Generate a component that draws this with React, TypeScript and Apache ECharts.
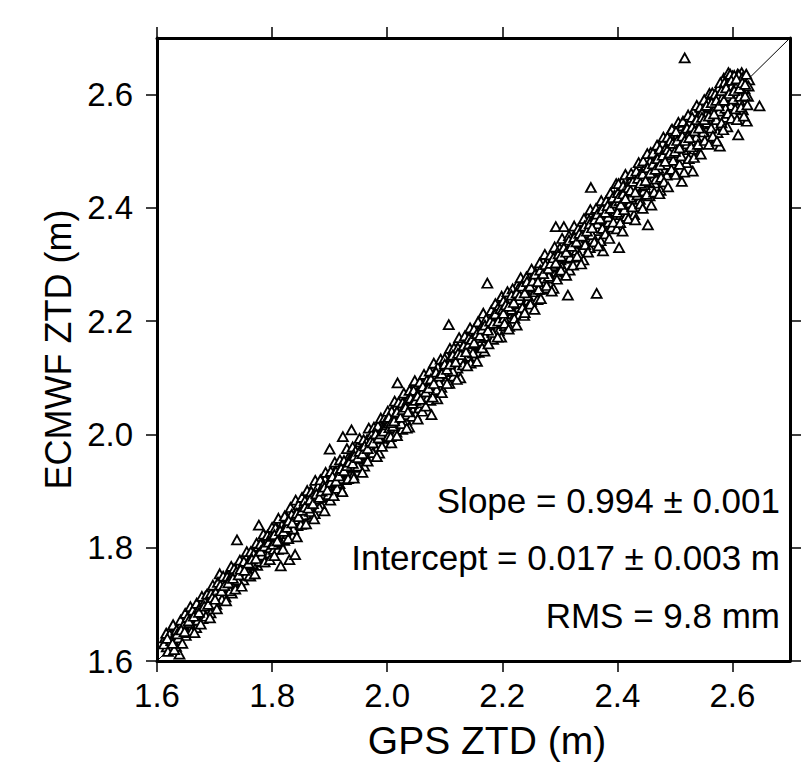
import React, { useEffect, useRef } from "react";
import * as echarts from "echarts";

const tickValues = [1.6, 1.8, 2.0, 2.2, 2.4, 2.6];
const axisMin = 1.6;
const axisMax = 2.7;
const oneToOneLine = [[1.6, 1.6], [2.7, 2.7]];
const statLines = ["Slope = 0.994 ± 0.001", "Intercept = 0.017 ± 0.003 m", "RMS = 9.8 mm"];
const xTitle = "GPS ZTD (m)";
const yTitle = "ECMWF ZTD (m)";

// [GPS ZTD, ECMWF ZTD] pairs, grouped by GPS range
const ztd16to18 = [
  [1.614,1.641],[1.617,1.625],[1.620,1.636],[1.624,1.621],[1.626,1.648],[1.629,1.634],[1.631,1.644],[1.633,1.626],
  [1.636,1.655],[1.639,1.612],[1.640,1.650],[1.643,1.667],[1.645,1.647],[1.647,1.661],[1.650,1.645],[1.652,1.672],
  [1.654,1.662],[1.657,1.685],[1.659,1.657],[1.661,1.676],[1.663,1.669],[1.666,1.687],[1.668,1.659],[1.670,1.681],
  [1.672,1.697],[1.675,1.678],[1.677,1.694],[1.679,1.675],[1.681,1.690],[1.684,1.714],[1.686,1.699],[1.688,1.689],
  [1.691,1.710],[1.693,1.685],[1.695,1.718],[1.698,1.705],[1.700,1.715],[1.703,1.700],[1.705,1.732],[1.707,1.717],
  [1.709,1.754],[1.711,1.729],[1.714,1.716],[1.716,1.740],[1.719,1.713],[1.721,1.733],[1.723,1.754],[1.726,1.732],
  [1.728,1.744],[1.730,1.720],[1.733,1.755],[1.735,1.739],[1.737,1.751],[1.739,1.814],[1.741,1.767],[1.743,1.741],
  [1.746,1.755],[1.748,1.768],[1.750,1.743],[1.753,1.766],[1.755,1.784],[1.757,1.762],[1.760,1.777],[1.762,1.750],
  [1.764,1.774],[1.767,1.790],[1.769,1.770],[1.771,1.786],[1.774,1.769],[1.776,1.803],[1.777,1.840],[1.779,1.787],
  [1.781,1.799],[1.784,1.775],[1.786,1.798],[1.788,1.820],[1.791,1.794],[1.793,1.814],[1.795,1.791],[1.798,1.809],
  [1.612,1.630],[1.616,1.649],[1.619,1.617],[1.622,1.647],[1.625,1.636],[1.628,1.664],[1.630,1.620],[1.634,1.655],
  [1.637,1.641],[1.641,1.672],[1.644,1.631],[1.646,1.663],[1.649,1.684],[1.651,1.650],[1.653,1.677],[1.656,1.668],
  [1.658,1.696],[1.660,1.652],[1.662,1.690],[1.665,1.650],[1.667,1.677],[1.669,1.702],[1.671,1.672],[1.674,1.694],
  [1.676,1.665],[1.678,1.714],[1.680,1.686],[1.683,1.705],[1.685,1.679],[1.687,1.718],[1.690,1.704],[1.692,1.676],
  [1.694,1.720],[1.697,1.734],[1.699,1.701],[1.702,1.721],[1.704,1.692],[1.706,1.739],[1.708,1.716],[1.710,1.734],
  [1.713,1.709],[1.715,1.750],[1.718,1.731],[1.720,1.706],[1.722,1.749],[1.725,1.743],[1.727,1.724],[1.729,1.767],
  [1.731,1.740],[1.734,1.763],[1.736,1.727],[1.738,1.758],[1.740,1.743],[1.744,1.778],[1.747,1.732],[1.749,1.763],
  [1.751,1.776],[1.754,1.751],[1.756,1.793],[1.758,1.769],[1.761,1.751],[1.763,1.793],[1.766,1.772],[1.768,1.789],
  [1.770,1.754],[1.773,1.808],[1.775,1.788],[1.778,1.776],[1.780,1.807],[1.782,1.787],[1.785,1.824],[1.787,1.775],
  [1.789,1.808],[1.792,1.822],[1.794,1.802],[1.796,1.779],[1.799,1.823],
  [1.618,1.640],[1.627,1.631],[1.635,1.648],[1.642,1.655],[1.648,1.652],[1.655,1.671],[1.664,1.679],[1.673,1.686],
  [1.682,1.697],[1.689,1.700],[1.696,1.712],[1.701,1.709],[1.712,1.724],[1.717,1.733],[1.724,1.738],[1.732,1.746],
  [1.742,1.752],[1.745,1.762],[1.752,1.760],[1.759,1.773],[1.765,1.780],[1.772,1.781],[1.780,1.794],[1.787,1.803],
  [1.794,1.810],[1.797,1.800]
];
const ztd18to20 = [
  [1.801,1.820],[1.803,1.797],[1.805,1.813],[1.808,1.835],[1.810,1.797],[1.812,1.826],[1.815,1.768],[1.816,1.819],
  [1.818,1.840],[1.821,1.813],[1.823,1.833],[1.825,1.855],[1.827,1.825],[1.830,1.779],[1.831,1.847],[1.833,1.839],
  [1.836,1.821],[1.838,1.862],[1.840,1.788],[1.842,1.853],[1.844,1.839],[1.847,1.866],[1.849,1.851],[1.851,1.879],
  [1.853,1.842],[1.856,1.869],[1.858,1.863],[1.860,1.881],[1.862,1.855],[1.865,1.874],[1.867,1.900],[1.869,1.866],
  [1.872,1.889],[1.874,1.860],[1.876,1.883],[1.878,1.903],[1.881,1.881],[1.883,1.897],[1.885,1.876],[1.888,1.908],
  [1.890,1.894],[1.892,1.921],[1.895,1.889],[1.897,1.909],[1.900,1.974],[1.901,1.884],[1.903,1.921],[1.906,1.909],
  [1.908,1.932],[1.910,1.900],[1.912,1.920],[1.915,1.946],[1.917,1.913],[1.919,1.934],[1.921,1.901],[1.923,1.996],
  [1.924,1.930],[1.926,1.948],[1.928,1.920],[1.931,1.942],[1.933,1.960],[1.935,1.934],[1.938,2.008],[1.939,1.955],
  [1.941,1.928],[1.944,1.949],[1.946,1.969],[1.948,1.942],[1.951,1.964],[1.953,1.987],[1.955,1.956],[1.958,1.977],
  [1.960,1.944],[1.962,1.971],[1.965,1.991],[1.967,1.963],[1.969,1.983],[1.972,1.961],[1.974,1.995],[1.976,1.980],
  [1.979,2.009],[1.981,1.973],[1.983,1.993],[1.986,1.967],[1.988,2.005],[1.990,1.992],[1.993,2.017],[1.995,1.985],
  [1.997,2.009],
  [1.800,1.836],[1.802,1.806],[1.804,1.786],[1.806,1.835],[1.809,1.821],[1.811,1.852],[1.813,1.810],[1.817,1.840],
  [1.819,1.798],[1.822,1.856],[1.824,1.832],[1.826,1.844],[1.828,1.816],[1.832,1.871],[1.834,1.859],[1.837,1.833],
  [1.839,1.850],[1.841,1.884],[1.843,1.819],[1.846,1.876],[1.848,1.864],[1.850,1.841],[1.852,1.889],[1.855,1.858],
  [1.857,1.883],[1.859,1.842],[1.861,1.901],[1.864,1.878],[1.866,1.864],[1.868,1.899],[1.870,1.890],[1.873,1.851],
  [1.875,1.919],[1.877,1.886],[1.880,1.908],[1.882,1.871],[1.884,1.920],[1.887,1.892],[1.889,1.911],[1.891,1.865],
  [1.893,1.933],[1.896,1.911],[1.898,1.894],[1.902,1.935],[1.904,1.914],[1.907,1.892],[1.909,1.951],[1.911,1.935],
  [1.913,1.905],[1.916,1.933],[1.918,1.955],[1.920,1.922],[1.922,1.899],[1.925,1.954],[1.927,1.940],[1.930,1.975],
  [1.932,1.922],[1.934,1.955],[1.937,1.943],[1.940,1.978],[1.942,1.923],[1.945,1.971],[1.947,1.958],[1.949,1.944],
  [1.952,1.993],[1.954,1.972],[1.957,1.933],[1.959,1.991],[1.961,1.965],[1.964,1.986],[1.966,1.953],[1.968,2.011],
  [1.970,1.979],[1.973,2.000],[1.975,1.968],[1.977,2.013],[1.980,1.995],[1.982,1.961],[1.984,2.015],[1.987,1.993],
  [1.989,2.029],[1.991,1.979],[1.994,2.013],[1.996,2.030],[1.998,1.995],
  [1.804,1.823],[1.809,1.812],[1.814,1.830],[1.820,1.829],[1.826,1.836],[1.829,1.848],[1.835,1.844],[1.843,1.861],
  [1.846,1.855],[1.852,1.866],[1.857,1.872],[1.863,1.870],[1.866,1.885],[1.871,1.878],[1.877,1.895],[1.882,1.889],
  [1.886,1.900],[1.891,1.907],[1.896,1.902],[1.902,1.916],[1.905,1.926],[1.911,1.918],[1.916,1.927],[1.920,1.940],
  [1.925,1.936],[1.930,1.945],[1.934,1.951],[1.940,1.949],[1.943,1.962],[1.949,1.959],[1.952,1.970],[1.957,1.966],
  [1.961,1.980],[1.966,1.975],[1.971,1.988],[1.975,1.985],[1.980,2.001],[1.985,1.994],[1.989,2.001],[1.994,2.006],
  [1.999,2.017]
];
const ztd20to22 = [
  [2.000,2.028],[2.002,1.997],[2.004,2.012],[2.007,1.985],[2.009,2.028],[2.011,2.012],[2.014,2.046],[2.016,2.004],
  [2.018,2.091],[2.019,2.032],[2.021,2.018],[2.024,2.046],[2.026,2.009],[2.028,2.034],[2.031,2.057],[2.033,2.025],
  [2.035,2.050],[2.038,2.013],[2.040,2.050],[2.042,2.077],[2.045,2.043],[2.047,2.065],[2.049,2.035],[2.052,2.056],
  [2.054,2.078],[2.056,2.047],[2.059,2.071],[2.061,2.041],[2.063,2.092],[2.066,2.066],[2.068,2.084],[2.070,2.064],
  [2.073,2.094],[2.075,2.060],[2.077,2.035],[2.078,2.085],[2.080,2.113],[2.082,2.078],[2.085,2.099],[2.087,2.063],
  [2.089,2.098],[2.092,2.117],[2.094,2.083],[2.096,2.099],[2.099,2.118],[2.101,2.094],[2.103,2.139],[2.106,2.117],
  [2.107,2.194],[2.108,2.090],[2.110,2.132],[2.113,2.115],[2.115,2.103],[2.117,2.133],[2.120,2.150],[2.122,2.117],
  [2.124,2.132],[2.127,2.100],[2.129,2.149],[2.131,2.136],[2.134,2.124],[2.136,2.163],[2.138,2.151],[2.141,2.138],
  [2.143,2.177],[2.145,2.126],[2.148,2.158],[2.150,2.173],[2.152,2.144],[2.155,2.159],[2.157,2.175],[2.159,2.145],
  [2.162,2.190],[2.164,2.165],[2.166,2.180],[2.169,2.147],[2.171,2.180],[2.174,2.267],[2.175,2.196],[2.177,2.171],
  [2.180,2.212],[2.182,2.188],[2.184,2.168],[2.187,2.204],[2.189,2.187],[2.191,2.216],[2.194,2.183],[2.196,2.208],
  [2.198,2.172],
  [2.001,2.041],[2.003,2.020],[2.006,1.996],[2.008,2.041],[2.010,2.015],[2.013,2.059],[2.015,2.037],[2.017,1.998],
  [2.020,2.057],[2.022,2.033],[2.025,2.019],[2.027,2.056],[2.029,2.073],[2.032,2.035],[2.034,2.011],[2.036,2.061],
  [2.039,2.078],[2.041,2.055],[2.043,2.032],[2.046,2.078],[2.048,2.095],[2.050,2.058],[2.053,2.027],[2.055,2.075],
  [2.057,2.093],[2.060,2.056],[2.062,2.077],[2.064,2.106],[2.067,2.050],[2.069,2.096],[2.071,2.077],[2.074,2.112],
  [2.076,2.088],[2.079,2.066],[2.081,2.126],[2.083,2.106],[2.086,2.079],[2.088,2.119],[2.090,2.092],[2.093,2.133],
  [2.095,2.074],[2.097,2.114],[2.100,2.134],[2.102,2.111],[2.104,2.090],[2.109,2.152],[2.111,2.137],[2.114,2.112],
  [2.116,2.153],[2.118,2.131],[2.121,2.097],[2.123,2.153],[2.125,2.171],[2.128,2.132],[2.130,2.151],[2.132,2.123],
  [2.135,2.174],[2.137,2.153],[2.139,2.121],[2.142,2.170],[2.144,2.188],[2.146,2.153],[2.149,2.144],[2.151,2.186],
  [2.153,2.172],[2.156,2.129],[2.158,2.199],[2.160,2.171],[2.163,2.188],[2.165,2.153],[2.167,2.214],[2.170,2.173],
  [2.172,2.204],[2.176,2.160],[2.178,2.193],[2.181,2.219],[2.183,2.180],[2.185,2.211],[2.188,2.231],[2.190,2.198],
  [2.192,2.172],[2.195,2.228],[2.197,2.215],[2.199,2.244],
  [2.003,2.030],[2.007,2.021],[2.012,2.024],[2.017,2.040],[2.023,2.030],[2.027,2.044],[2.032,2.048],[2.036,2.040],
  [2.041,2.064],[2.044,2.055],[2.049,2.060],[2.053,2.068],[2.058,2.062],[2.062,2.085],[2.067,2.075],[2.072,2.082],
  [2.076,2.098],[2.081,2.090],[2.085,2.110],[2.090,2.103],[2.095,2.108],[2.100,2.124],[2.104,2.115],[2.109,2.124],
  [2.114,2.140],[2.119,2.128],[2.123,2.143],[2.128,2.141],[2.133,2.157],[2.137,2.146],[2.142,2.160],[2.147,2.168],
  [2.151,2.162],[2.156,2.178],[2.161,2.175],[2.165,2.186],[2.170,2.193],[2.175,2.184],[2.179,2.200],[2.184,2.196],
  [2.188,2.213],[2.193,2.200],[2.197,2.222]
];
const ztd22to24 = [
  [2.201,2.221],[2.203,2.206],[2.205,2.192],[2.208,2.239],[2.210,2.219],[2.212,2.191],[2.215,2.230],[2.217,2.213],
  [2.219,2.245],[2.222,2.212],[2.224,2.231],[2.226,2.264],[2.229,2.212],[2.231,2.244],[2.233,2.232],[2.236,2.258],
  [2.238,2.210],[2.240,2.245],[2.243,2.260],[2.245,2.237],[2.247,2.277],[2.250,2.235],[2.252,2.262],[2.254,2.278],
  [2.257,2.252],[2.259,2.261],[2.261,2.238],[2.264,2.283],[2.266,2.274],[2.268,2.256],[2.271,2.305],[2.273,2.270],
  [2.275,2.289],[2.278,2.259],[2.280,2.286],[2.282,2.309],[2.285,2.276],[2.287,2.298],[2.289,2.258],[2.292,2.310],
  [2.293,2.367],[2.294,2.295],[2.296,2.282],[2.299,2.322],[2.301,2.308],[2.303,2.297],[2.306,2.338],[2.307,2.367],
  [2.308,2.288],[2.310,2.322],[2.313,2.311],[2.314,2.246],[2.315,2.336],[2.317,2.290],[2.320,2.324],[2.322,2.338],
  [2.324,2.313],[2.327,2.356],[2.329,2.325],[2.331,2.340],[2.334,2.317],[2.336,2.360],[2.338,2.338],[2.341,2.308],
  [2.343,2.357],[2.345,2.337],[2.348,2.383],[2.350,2.356],[2.352,2.330],[2.354,2.436],[2.355,2.374],[2.357,2.345],
  [2.359,2.362],[2.362,2.388],[2.364,2.249],[2.366,2.360],[2.368,2.380],[2.371,2.342],[2.373,2.390],[2.375,2.324],
  [2.376,2.378],[2.378,2.363],[2.380,2.411],[2.383,2.391],[2.385,2.375],[2.387,2.408],[2.390,2.366],[2.392,2.397],
  [2.394,2.409],[2.397,2.394],[2.399,2.363],
  [2.202,2.236],[2.204,2.196],[2.207,2.219],[2.209,2.252],[2.211,2.186],[2.214,2.238],[2.216,2.221],[2.218,2.257],
  [2.221,2.205],[2.223,2.240],[2.225,2.193],[2.228,2.258],[2.230,2.238],[2.232,2.277],[2.235,2.224],[2.237,2.258],
  [2.239,2.215],[2.242,2.278],[2.244,2.245],[2.246,2.260],[2.249,2.230],[2.251,2.292],[2.253,2.262],[2.256,2.221],
  [2.258,2.285],[2.260,2.275],[2.263,2.256],[2.265,2.303],[2.267,2.240],[2.270,2.290],[2.272,2.276],[2.274,2.318],
  [2.277,2.263],[2.279,2.304],[2.281,2.279],[2.284,2.317],[2.286,2.253],[2.288,2.298],[2.291,2.331],[2.295,2.274],
  [2.297,2.313],[2.300,2.329],[2.302,2.290],[2.304,2.346],[2.309,2.315],[2.311,2.281],[2.312,2.338],[2.316,2.351],
  [2.318,2.313],[2.321,2.339],[2.323,2.299],[2.325,2.368],[2.328,2.339],[2.330,2.315],[2.332,2.363],[2.335,2.338],
  [2.337,2.301],[2.339,2.361],[2.342,2.381],[2.344,2.335],[2.346,2.359],[2.349,2.322],[2.351,2.379],[2.353,2.397],
  [2.356,2.353],[2.358,2.375],[2.360,2.340],[2.363,2.399],[2.365,2.372],[2.367,2.333],[2.370,2.394],[2.372,2.413],
  [2.374,2.364],[2.377,2.391],[2.379,2.354],[2.381,2.413],[2.384,2.384],[2.386,2.346],[2.388,2.426],[2.391,2.402],
  [2.393,2.375],[2.395,2.422],[2.398,2.443],
  [2.202,2.214],[2.206,2.229],[2.211,2.226],[2.216,2.246],[2.220,2.233],[2.225,2.250],[2.230,2.245],[2.234,2.262],
  [2.239,2.250],[2.243,2.270],[2.248,2.262],[2.253,2.271],[2.257,2.283],[2.262,2.270],[2.266,2.290],[2.271,2.284],
  [2.275,2.300],[2.280,2.293],[2.284,2.302],[2.289,2.312],[2.293,2.303],[2.298,2.319],[2.302,2.315],[2.307,2.330],
  [2.311,2.322],[2.316,2.343],[2.320,2.332],[2.325,2.348],[2.329,2.340],[2.334,2.355],[2.338,2.350],[2.343,2.368],
  [2.347,2.359],[2.352,2.372],[2.356,2.365],[2.361,2.380],[2.365,2.389],[2.370,2.381],[2.374,2.398],[2.379,2.392],
  [2.383,2.404],[2.388,2.399],[2.392,2.418],[2.397,2.409]
];
const ztd24to27 = [
  [2.401,2.427],[2.403,2.330],[2.404,2.413],[2.406,2.388],[2.408,2.446],[2.411,2.405],[2.413,2.428],[2.415,2.385],
  [2.418,2.422],[2.420,2.442],[2.422,2.409],[2.425,2.456],[2.427,2.425],[2.429,2.388],[2.432,2.444],[2.434,2.453],
  [2.436,2.427],[2.439,2.415],[2.441,2.475],[2.443,2.449],[2.446,2.430],[2.448,2.473],[2.450,2.446],[2.453,2.370],
  [2.454,2.465],[2.456,2.421],[2.458,2.498],[2.461,2.450],[2.463,2.480],[2.465,2.444],[2.468,2.470],[2.470,2.498],
  [2.472,2.465],[2.475,2.431],[2.477,2.490],[2.479,2.515],[2.482,2.467],[2.484,2.491],[2.486,2.458],[2.489,2.510],
  [2.491,2.488],[2.493,2.536],[2.496,2.477],[2.498,2.508],[2.500,2.463],[2.503,2.527],[2.505,2.497],[2.507,2.510],
  [2.510,2.485],[2.512,2.447],[2.513,2.545],[2.515,2.503],[2.517,2.665],[2.518,2.534],[2.520,2.480],[2.522,2.527],
  [2.525,2.552],[2.527,2.510],[2.529,2.528],[2.531,2.465],[2.532,2.570],[2.534,2.504],[2.536,2.547],[2.539,2.530],
  [2.541,2.563],[2.543,2.497],[2.546,2.550],[2.548,2.527],[2.550,2.581],[2.553,2.548],[2.555,2.570],[2.557,2.523],
  [2.560,2.602],[2.562,2.549],[2.564,2.572],[2.567,2.592],[2.569,2.545],[2.571,2.572],[2.574,2.533],[2.576,2.611],
  [2.578,2.509],[2.580,2.597],[2.582,2.572],[2.585,2.629],[2.587,2.560],[2.589,2.595],[2.591,2.543],[2.593,2.639],
  [2.595,2.619],[2.597,2.581],[2.600,2.633],[2.602,2.566],[2.604,2.616],[2.606,2.601],[2.609,2.636],[2.610,2.529],
  [2.612,2.590],[2.614,2.622],[2.616,2.639],[2.618,2.573],[2.621,2.610],[2.623,2.629],[2.625,2.553],[2.627,2.597],
  [2.629,2.626],[2.647,2.580],
  [2.400,2.392],[2.402,2.443],[2.405,2.374],[2.407,2.423],[2.409,2.359],[2.410,2.439],[2.412,2.397],[2.414,2.459],
  [2.417,2.420],[2.419,2.381],[2.421,2.445],[2.423,2.419],[2.424,2.461],[2.426,2.402],[2.428,2.438],[2.431,2.379],
  [2.433,2.465],[2.435,2.423],[2.437,2.480],[2.438,2.439],[2.440,2.407],[2.442,2.462],[2.444,2.399],[2.445,2.483],
  [2.447,2.441],[2.449,2.463],[2.451,2.424],[2.452,2.496],[2.455,2.445],[2.457,2.482],[2.459,2.405],[2.460,2.466],
  [2.462,2.497],[2.464,2.428],[2.466,2.484],[2.467,2.451],[2.469,2.511],[2.471,2.470],[2.473,2.425],[2.474,2.504],
  [2.476,2.454],[2.478,2.487],[2.480,2.525],[2.481,2.446],[2.483,2.504],[2.485,2.477],[2.487,2.525],[2.488,2.437],
  [2.490,2.494],[2.492,2.519],[2.494,2.468],[2.495,2.539],[2.497,2.484],[2.499,2.515],[2.501,2.459],[2.502,2.535],
  [2.504,2.502],[2.506,2.551],[2.508,2.477],[2.509,2.521],[2.511,2.492],[2.514,2.553],[2.516,2.463],[2.519,2.541],
  [2.521,2.513],[2.523,2.564],[2.524,2.487],[2.526,2.533],[2.528,2.508],[2.530,2.560],[2.533,2.489],[2.535,2.552],
  [2.537,2.525],[2.538,2.581],[2.540,2.512],[2.542,2.544],[2.544,2.578],[2.545,2.495],[2.547,2.568],[2.549,2.534],
  [2.551,2.591],[2.552,2.519],[2.554,2.564],[2.556,2.551],[2.558,2.587],[2.559,2.512],[2.561,2.579],[2.563,2.541],
  [2.565,2.603],[2.566,2.527],[2.568,2.573],[2.570,2.601],[2.572,2.556],[2.573,2.518],[2.575,2.597],[2.577,2.571],
  [2.579,2.621],[2.581,2.550],[2.583,2.596],[2.584,2.538],[2.586,2.621],[2.588,2.576],[2.590,2.616],[2.592,2.567],
  [2.594,2.598],[2.596,2.636],[2.598,2.558],[2.599,2.616],[2.601,2.592],[2.603,2.634],[2.605,2.575],[2.607,2.617],
  [2.608,2.556],[2.611,2.635],[2.613,2.597],[2.615,2.578],[2.617,2.630],[2.619,2.617],[2.620,2.562],[2.622,2.598],
  [2.624,2.636],[2.626,2.582],[2.628,2.615],
  [2.402,2.418],[2.406,2.406],[2.410,2.425],[2.414,2.417],[2.419,2.436],[2.423,2.431],[2.427,2.447],[2.431,2.428],
  [2.436,2.452],[2.440,2.444],[2.444,2.460],[2.449,2.448],[2.453,2.471],[2.457,2.462],[2.462,2.478],[2.466,2.468],
  [2.470,2.487],[2.474,2.476],[2.479,2.493],[2.483,2.482],[2.487,2.503],[2.491,2.497],[2.496,2.514],[2.500,2.500],
  [2.504,2.519],[2.508,2.506],[2.513,2.527],[2.517,2.519],[2.521,2.541],[2.525,2.524],[2.530,2.543],[2.534,2.536],
  [2.538,2.556],[2.542,2.541],[2.547,2.560],[2.551,2.556],[2.555,2.581],[2.559,2.562],[2.564,2.586],[2.568,2.566],
  [2.572,2.590],[2.576,2.580],[2.581,2.607],[2.585,2.590],[2.589,2.612],[2.594,2.602],[2.598,2.625],[2.603,2.607],
  [2.607,2.628],[2.612,2.611],[2.617,2.621],[2.622,2.618]
];

export default function App() {
  const ref = useRef<HTMLDivElement>(null);
  useEffect(() => {
    if (!ref.current) return;
    const chart = echarts.init(ref.current, null, { renderer: "svg" });
    const font = "'Liberation Sans', Arial, Helvetica, sans-serif";
    const axisLine = { show: true, onZero: false, lineStyle: { color: "#000", width: 3 } };
    const axisTick = { show: true, inside: false, length: 11, customValues: tickValues, lineStyle: { color: "#000", width: 1.5 } };
    const fmt = (v: number) => v.toFixed(1);
    const points = [...ztd16to18, ...ztd18to20, ...ztd20to22, ...ztd22to24, ...ztd24to27];

    chart.setOption({
      animation: false,
      backgroundColor: "#fff",
      grid: { left: 157, top: 38, right: 16, bottom: 93, containLabel: false },
      xAxis: [
        {
          type: "value", position: "bottom", min: axisMin, max: axisMax, interval: 0.2,
          axisLine, axisTick, splitLine: { show: false },
          axisLabel: { customValues: tickValues, formatter: fmt, fontSize: 33, color: "#000", margin: 18, fontFamily: font },
          name: xTitle, nameLocation: "middle", nameGap: 60,
          nameTextStyle: { fontSize: 39, color: "#000", fontFamily: font, padding: [0, 0, 0, 27] },
        },
        {
          type: "value", position: "top", min: axisMin, max: axisMax, interval: 0.2,
          axisLine, axisTick, splitLine: { show: false }, axisLabel: { show: false },
        },
      ],
      yAxis: [
        {
          type: "value", position: "left", min: axisMin, max: axisMax, interval: 0.2,
          axisLine, axisTick, splitLine: { show: false },
          axisLabel: { customValues: tickValues, formatter: fmt, fontSize: 33, color: "#000", margin: 24, fontFamily: font },
          name: yTitle, nameLocation: "middle", nameGap: 77, nameRotate: 90,
          nameTextStyle: { fontSize: 36, color: "#000", fontFamily: font },
        },
        {
          type: "value", position: "right", min: axisMin, max: axisMax, interval: 0.2,
          axisLine, axisTick, splitLine: { show: false }, axisLabel: { show: false },
        },
      ],
      series: [
        {
          type: "line", data: oneToOneLine, xAxisIndex: 0, yAxisIndex: 0,
          symbol: "none", lineStyle: { color: "#000", width: 1 }, z: 1, silent: true,
        },
        {
          type: "scatter", data: points, xAxisIndex: 0, yAxisIndex: 0,
          symbol: "triangle", symbolSize: [10, 9],
          itemStyle: { color: "#fff", borderColor: "#000", borderWidth: 1.8, opacity: 1 },
          z: 2, silent: true, large: false,
        },
      ],
      graphic: statLines.map((t, i) => ({
        type: "text", x: 780, y: 500 + i * 57.5, z: 100,
        style: { text: t, align: "right", verticalAlign: "middle", fontSize: 35, fontFamily: font, fill: "#000" },
      })),
    });
    return () => chart.dispose();
  }, []);
  return <div ref={ref} style={{ position: "fixed", left: 0, top: 0, width: 806, height: 765, background: "#fff" }} />;
}
